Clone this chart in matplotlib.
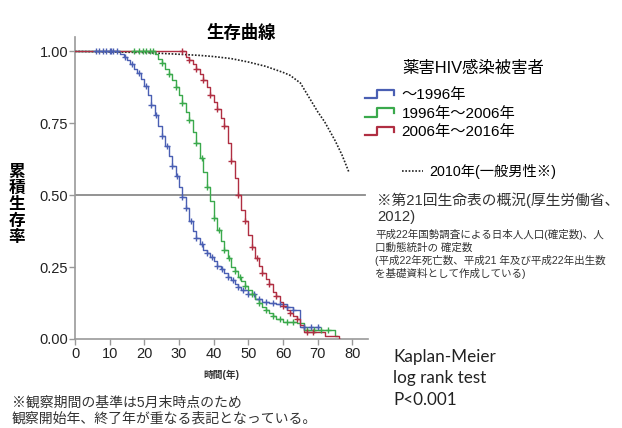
import matplotlib
matplotlib.use("Agg")
import matplotlib.pyplot as plt
import numpy as np
from matplotlib.legend_handler import HandlerBase
from matplotlib.lines import Line2D

plt.rcParams['font.family'] = ['Liberation Sans', 'Noto Sans CJK JP']

# ~1996年 (青)
blue_t = [0, 13, 14, 15, 16, 17, 18, 19, 20, 21, 22, 23, 24, 25, 26, 27, 28, 29, 30, 31, 32, 33, 34, 35,
          36, 37, 38, 39, 40, 41, 42, 43, 44, 45, 46, 47, 48, 50, 52, 54, 56, 58, 61, 63, 65, 70.5]
blue_s = [1.0, 0.99, 0.98, 0.97, 0.955, 0.94, 0.925, 0.905, 0.88, 0.85, 0.815, 0.78, 0.74, 0.705, 0.67,
          0.635, 0.6, 0.565, 0.53, 0.495, 0.455, 0.41, 0.375, 0.35, 0.33, 0.31, 0.3, 0.285, 0.27, 0.255,
          0.245, 0.23, 0.215, 0.205, 0.19, 0.18, 0.17, 0.155, 0.14, 0.13, 0.125, 0.12, 0.11, 0.1, 0.04, 0.04]
blue_cens = [6, 7, 8, 9, 10, 10.5, 11, 12, 14.5, 16.5, 18.5, 20.5, 22, 23.5, 25, 26.5, 28, 29.5, 31, 32,
             33.5, 35, 36.5, 38, 39.5, 41, 42.5, 44, 45.5, 47, 48.5, 50, 51.5, 53, 55, 57, 59, 61, 63, 66, 68, 70]

# 1996年~2006年 (緑)
green_t = [0, 23, 24, 25, 26, 27, 28, 29, 30, 31, 32, 33, 34, 35, 36, 37, 38, 39, 40, 41, 42, 43, 44, 45,
           46, 47, 48, 49, 50, 51, 52, 53, 54, 55, 56, 57, 58, 60, 64, 66, 75, 75.5]
green_s = [1.0, 0.99, 0.975, 0.96, 0.94, 0.92, 0.9, 0.875, 0.85, 0.82, 0.79, 0.76, 0.72, 0.68, 0.63, 0.58,
           0.53, 0.48, 0.42, 0.38, 0.34, 0.31, 0.28, 0.25, 0.235, 0.215, 0.2, 0.185, 0.17, 0.155, 0.14,
           0.125, 0.11, 0.1, 0.09, 0.08, 0.07, 0.06, 0.055, 0.03, 0.01, 0.01]
green_cens = [17, 18.5, 19.5, 20.5, 21.5, 22.5, 25, 27, 29, 31, 33, 35, 36.5, 38, 40, 41.5, 43, 44.5, 46,
              47.5, 49, 51, 53, 55, 57, 59, 61, 63, 67, 69, 71, 73]

# 2006年~2016年 (赤)
red_t = [0, 32, 33, 34, 35, 36, 37, 38, 39, 40, 41, 42, 43, 44, 45, 46, 47, 48, 49, 50, 51, 52, 53, 54,
         55, 56, 57, 58, 59, 60, 61, 62, 63, 64, 65, 66, 72, 76, 76.5]
red_s = [1.0, 0.98, 0.97, 0.955, 0.94, 0.92, 0.9, 0.875, 0.85, 0.825, 0.8, 0.77, 0.74, 0.68, 0.62, 0.56,
         0.5, 0.45, 0.41, 0.36, 0.32, 0.28, 0.255, 0.23, 0.21, 0.19, 0.165, 0.15, 0.13, 0.115, 0.1, 0.09,
         0.08, 0.07, 0.05, 0.025, 0.01, 0.0, 0.0]
red_cens = [31, 33, 35, 37, 39, 41, 43, 45, 47, 49, 51, 52.5, 54, 56, 58, 60, 62, 64, 67, 68.5]

# 2010年 一般男性 (生命表)
male_age = [0, 10, 20, 30, 36, 40, 45, 50, 55, 60, 62, 65, 70, 72, 75, 77, 79]
male_s = [1.0, 0.998, 0.996, 0.99, 0.986, 0.982, 0.975, 0.963, 0.948, 0.927, 0.917, 0.89, 0.79, 0.755,
          0.69, 0.64, 0.58]

groups = [
    ("～1996年", blue_t, blue_s, blue_cens, "#4a5fb3"),
    ("1996年～2006年", green_t, green_s, green_cens, "#3aa94c"),
    ("2006年～2016年", red_t, red_s, red_cens, "#b02e42"),
]

W, H = 622, 428
fig = plt.figure(figsize=(W / 100, H / 100), dpi=100)
ax = fig.add_axes([75 / W, 1 - 339 / H, (368 - 75) / W, (339 - 37) / H])

ax.axhline(0.5, xmin=0, xmax=83.6 / 84.5, color="#8a8a8a", lw=1.3, zorder=1)

handles = []
for name, t, s, cens, col in groups:
    t = np.array(t)
    s = np.array(s)
    ln, = ax.step(t, s, where="post", color=col, lw=1.0, zorder=3)
    c = np.array(cens)
    idx = np.searchsorted(t, c, side="right") - 1
    ax.plot(c, s[idx], ls="none", marker="+", ms=5, mew=1.0, color=col, zorder=4)
    handles.append(ln)

male_ln, = ax.plot(male_age, male_s, color="#222222", lw=1.2, ls=(0, (1, 1)), zorder=2)

ax.set_xlim(0, 84.5)
ax.set_ylim(0, 1.05)
ax.set_xticks(np.arange(0, 81, 10))
ax.set_yticks([0, 0.25, 0.5, 0.75, 1.0])
ax.set_yticklabels(["0.00", "0.25", "0.50", "0.75", "1.00"])
for sp in ["top", "right"]:
    ax.spines[sp].set_visible(False)
for sp in ["left", "bottom"]:
    ax.spines[sp].set_color("#999999")
    ax.spines[sp].set_linewidth(1.2)
ax.tick_params(axis="both", colors="#999999", labelcolor="#222222", labelsize=10.5, length=4, width=1)
ax.tick_params(axis="y", pad=1)
ax.tick_params(axis="x", pad=2)
ax.set_xlabel("時間(年)", fontsize=7, fontweight="bold", labelpad=6, color="#333333")

fig.text(241 / W, 1 - 32 / H, "生存曲線", ha="center", va="center", fontsize=12.5, fontweight="bold")
fig.text(17 / W, 1 - 205 / H, "累\n積\n生\n存\n率", ha="center", va="center", fontsize=12,
         fontweight="bold", linespacing=1.1)


class StepHandler(HandlerBase):
    def create_artists(self, legend, orig_handle, xdescent, ydescent, width, height, fontsize, trans):
        xs = np.array([0, 0.42, 0.42, 1.0, 1.0]) * width - xdescent
        ys = np.array([0.1, 0.1, 0.85, 0.85, 0.4]) * height - ydescent
        ln = Line2D(xs, ys, color=orig_handle.get_color(), lw=1.6, transform=trans)
        return [ln]


fig.text(402 / W, 1 - 68 / H, "薬害HIV感染被害者", ha="left", va="center", fontsize=11.8)
leg1 = fig.legend(handles, [g[0] for g in groups], loc="upper left", bbox_to_anchor=(365 / W, 1 - 88 / H),
                  frameon=False, fontsize=11, handlelength=1.9, handletextpad=0.5, labelspacing=0.3,
                  borderpad=0, borderaxespad=0, handler_map={Line2D: StepHandler()})
leg2 = fig.legend([male_ln], ["2010年(一般男性※)"], loc="upper left", bbox_to_anchor=(402 / W, 1 - 164 / H),
                  frameon=False, fontsize=10.3, handlelength=1.5, handletextpad=0.4, borderpad=0,
                  borderaxespad=0)

fig.text(377 / W, 1 - 200 / H, "※第21回生命表の概況(厚生労働省、", ha="left", va="center", fontsize=10.6,
         color="#333333")
fig.text(377 / W, 1 - 217 / H, "2012)", ha="left", va="center", fontsize=10.6, color="#333333")
small = ["平成22年国勢調査による日本人人口(確定数)、人",
         "口動態統計の 確定数",
         "(平成22年死亡数、平成21 年及び平成22年出生数",
         "を基礎資料として作成している)"]
for i, line in enumerate(small):
    fig.text(375 / W, 1 - (234 + 13.2 * i) / H, line, ha="left", va="center", fontsize=7.6, color="#333333")

for i, line in enumerate(["Kaplan-Meier", "log rank test", "P<0.001"]):
    fig.text(393 / W, 1 - (357 + 21.5 * i) / H, line, ha="left", va="center", fontsize=12.3,
             family=["Lato", "DejaVu Sans"], color="#222222")

fig.text(12 / W, 1 - 403 / H, "※観察期間の基準は5月末時点のため", ha="left", va="center", fontsize=10,
         color="#333333")
fig.text(12 / W, 1 - 419 / H, "観察開始年、終了年が重なる表記となっている。", ha="left", va="center", fontsize=10,
         color="#333333")

fig.savefig("out.png", dpi=100)
